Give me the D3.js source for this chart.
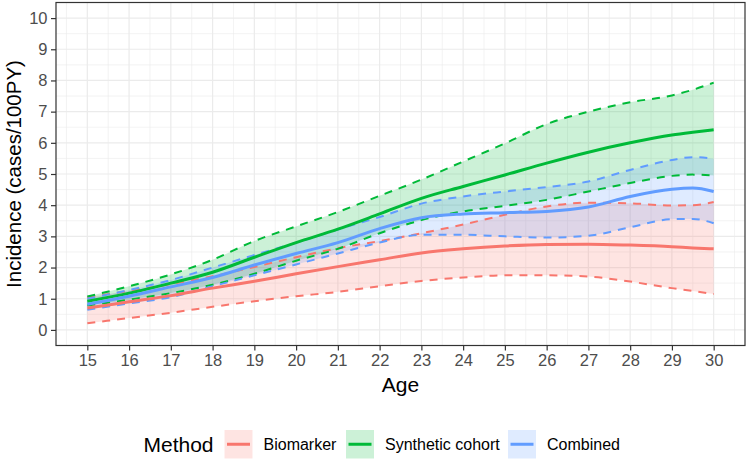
<!DOCTYPE html>
<html>
<head>
<meta charset="utf-8">
<script src="https://cdn.jsdelivr.net/npm/d3@7"></script>
<style>
  body { margin: 0; background: #fff; }
  text { font-family: "Liberation Sans", Arial, sans-serif; }
</style>
</head>
<body>
<script>
// data
var ages = [15, 16, 17, 18, 19, 20, 21, 22, 23, 24, 25, 26, 27, 28, 29, 29.5, 30];

var biomarkerEst = [0.70, 0.90, 1.10, 1.34, 1.56, 1.80, 2.03, 2.25, 2.47, 2.60, 2.69, 2.74, 2.75, 2.72, 2.67, 2.63, 2.60];
var biomarkerLo  = [0.21, 0.38, 0.55, 0.74, 0.92, 1.08, 1.22, 1.40, 1.57, 1.68, 1.75, 1.75, 1.71, 1.55, 1.34, 1.25, 1.15];
var biomarkerHi  = [1.05, 1.25, 1.47, 1.72, 2.02, 2.33, 2.62, 2.85, 3.10, 3.38, 3.69, 3.96, 4.08, 4.06, 3.99, 4.00, 4.10];

var syntheticEst = [0.92, 1.18, 1.50, 1.85, 2.33, 2.80, 3.23, 3.72, 4.22, 4.60, 4.97, 5.35, 5.70, 6.00, 6.25, 6.34, 6.42];
var syntheticLo  = [0.78, 0.97, 1.18, 1.45, 1.80, 2.22, 2.60, 3.10, 3.52, 3.80, 3.98, 4.17, 4.44, 4.71, 4.94, 4.98, 4.95];
var syntheticHi  = [1.07, 1.40, 1.78, 2.25, 2.85, 3.32, 3.78, 4.30, 4.82, 5.40, 5.98, 6.60, 7.00, 7.30, 7.52, 7.70, 7.93];

var combinedEst = [0.82, 1.08, 1.38, 1.68, 2.08, 2.45, 2.80, 3.25, 3.60, 3.72, 3.76, 3.80, 3.94, 4.28, 4.51, 4.55, 4.44];
var combinedLo  = [0.65, 0.85, 1.05, 1.40, 1.75, 2.10, 2.45, 2.80, 3.05, 3.05, 3.00, 2.96, 3.02, 3.29, 3.55, 3.56, 3.42];
var combinedHi  = [1.00, 1.28, 1.60, 2.00, 2.40, 2.80, 3.22, 3.62, 4.05, 4.28, 4.44, 4.58, 4.76, 5.13, 5.45, 5.54, 5.49];

var methods = ["Biomarker", "Synthetic cohort", "Combined"];
var xTicks = d3.range(15, 31);
var yTicks = d3.range(0, 11);

var series = [
  {name: methods[0], est: biomarkerEst, lo: biomarkerLo, hi: biomarkerHi, color: "#F8766D"},
  {name: methods[1], est: syntheticEst, lo: syntheticLo, hi: syntheticHi, color: "#00BA38"},
  {name: methods[2], est: combinedEst, lo: combinedLo, hi: combinedHi, color: "#619CFF"}
];

var width = 748, height = 463;
var panel = {left: 56, right: 745, top: 2.5, bottom: 345.5};

var svg = d3.select("body").append("svg")
    .attr("width", width)
    .attr("height", height);

var x = d3.scaleLinear().domain([14.25, 30.75]).range([panel.left, panel.right]);
var y = d3.scaleLinear().domain([-0.5, 10.5]).range([panel.bottom, panel.top]);

// grid
var grid = svg.append("g");
d3.range(14.5, 31, 1).forEach(function(v){
  grid.append("line").attr("x1", x(v)).attr("x2", x(v))
      .attr("y1", panel.top).attr("y2", panel.bottom)
      .attr("stroke", "#EBEBEB").attr("stroke-width", 0.6);
});
d3.range(-0.5, 10.6, 1).forEach(function(v){
  grid.append("line").attr("y1", y(v)).attr("y2", y(v))
      .attr("x1", panel.left).attr("x2", panel.right)
      .attr("stroke", "#EBEBEB").attr("stroke-width", 0.6);
});
xTicks.forEach(function(v){
  grid.append("line").attr("x1", x(v)).attr("x2", x(v))
      .attr("y1", panel.top).attr("y2", panel.bottom)
      .attr("stroke", "#EBEBEB").attr("stroke-width", 1.2);
});
yTicks.forEach(function(v){
  grid.append("line").attr("y1", y(v)).attr("y2", y(v))
      .attr("x1", panel.left).attr("x2", panel.right)
      .attr("stroke", "#EBEBEB").attr("stroke-width", 1.2);
});

var curve = d3.curveMonotoneX;

var area = d3.area()
    .x(function(d){ return x(d.age); })
    .y0(function(d){ return y(d.lo); })
    .y1(function(d){ return y(d.hi); })
    .curve(curve);

var line = function(key){
  return d3.line()
    .x(function(d){ return x(d.age); })
    .y(function(d){ return y(d[key]); })
    .curve(curve);
};

function rows(s){
  return ages.map(function(a, i){
    return {age: a, est: s.est[i], lo: s.lo[i], hi: s.hi[i]};
  });
}

var plot = svg.append("g");

series.forEach(function(s){
  plot.append("path").datum(rows(s))
      .attr("d", area)
      .attr("fill", s.color)
      .attr("fill-opacity", 0.2);
});

series.forEach(function(s){
  ["lo", "hi"].forEach(function(k){
    plot.append("path").datum(rows(s))
        .attr("d", line(k))
        .attr("fill", "none")
        .attr("stroke", s.color)
        .attr("stroke-width", 2)
        .attr("stroke-dasharray", "8,7");
  });
});

series.forEach(function(s){
  plot.append("path").datum(rows(s))
      .attr("d", line("est"))
      .attr("fill", "none")
      .attr("stroke", s.color)
      .attr("stroke-width", 3);
});

// panel border
svg.append("rect")
    .attr("x", panel.left).attr("y", panel.top)
    .attr("width", panel.right - panel.left)
    .attr("height", panel.bottom - panel.top)
    .attr("fill", "none").attr("stroke", "#333333").attr("stroke-width", 1.2);

// axes
var xAxis = svg.append("g")
    .attr("transform", "translate(0," + panel.bottom + ")")
    .call(d3.axisBottom(x).tickValues(xTicks).tickSize(5).tickPadding(4).tickFormat(d3.format("d")));
var yAxis = svg.append("g")
    .attr("transform", "translate(" + panel.left + ",0)")
    .call(d3.axisLeft(y).tickValues(yTicks).tickSize(5).tickPadding(3.5).tickFormat(d3.format("d")));

[xAxis, yAxis].forEach(function(ax){
  ax.select(".domain").remove();
  ax.selectAll(".tick line").attr("stroke", "#333333").attr("stroke-width", 1.2);
  ax.selectAll(".tick text")
    .attr("fill", "#4D4D4D")
    .style("font-size", "16.5px")
    .style("font-family", "'Liberation Sans', Arial, sans-serif");
});

svg.append("text")
    .attr("x", (panel.left + panel.right) / 2)
    .attr("y", 392)
    .attr("text-anchor", "middle")
    .style("font-size", "21px")
    .text("Age");

svg.append("text")
    .attr("transform", "translate(21," + (panel.top + panel.bottom) / 2 + ") rotate(-90)")
    .attr("text-anchor", "middle")
    .style("font-size", "20.5px")
    .text("Incidence (cases/100PY)");

// legend
var legend = svg.append("g");
legend.append("text")
    .attr("x", 213.5).attr("y", 451.5)
    .attr("text-anchor", "end")
    .style("font-size", "21px")
    .text("Method");

var keyX = [224.5, 346, 508];
series.forEach(function(s, i){
  var g = legend.append("g").attr("transform", "translate(" + keyX[i] + ",430)");
  g.append("rect").attr("width", 28).attr("height", 28.5)
      .attr("fill", s.color).attr("fill-opacity", 0.2);
  g.append("line").attr("x1", 2.5).attr("x2", 25.5)
      .attr("y1", 14.25).attr("y2", 14.25)
      .attr("stroke", s.color).attr("stroke-width", 3);
  g.append("text").attr("x", 39).attr("y", 20)
      .style("font-size", "16px")
      .text(s.name);
});
</script>
</body>
</html>
